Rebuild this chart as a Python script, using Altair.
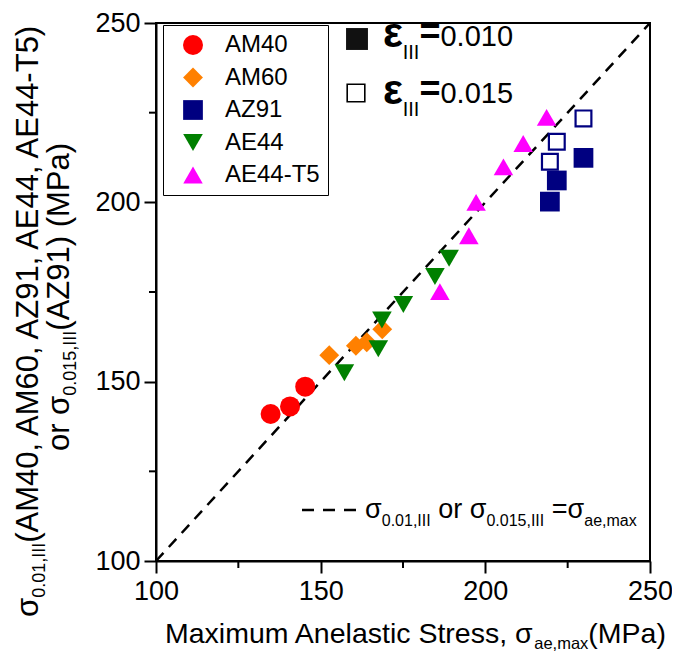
import altair as alt
import pandas as pd

FONT = "Liberation Sans"

# ---------------- data ----------------
alloys = ["AM40", "AM60", "AZ91", "AE44", "AE44-T5"]
colors = ["#ff0000", "#ff8000", "#000080", "#008000", "#ff00ff"]
shapes = ["circle", "diamond", "square", "triangle-down", "triangle-up"]
marker_sizes = [400, 380, 290, 420, 420]

am40_x = [134.8, 140.7, 145.3]
am40_y = [141.0, 143.1, 148.6]
am60_x = [152.6, 160.7, 164.0, 168.7]
am60_y = [157.4, 160.0, 161.0, 164.6]
az91_x = [219.6, 221.7, 229.8]
az91_y = [200.2, 206.1, 212.4]
ae44_x = [157.2, 167.5, 168.6, 175.1, 184.7, 189.0]
ae44_y = [152.5, 159.2, 167.2, 171.5, 179.3, 184.4]
ae44t5_x = [186.2, 195.0, 197.2, 205.5, 211.5, 218.6]
ae44t5_y = [175.1, 190.7, 200.0, 209.9, 216.4, 223.7]

az91_open_x = [219.6, 221.7, 229.8]
az91_open_y = [211.3, 216.9, 223.4]

diag_x = [100, 250]
diag_y = [100, 250]

major_ticks = [100, 150, 200, 250]
minor_ticks = [125, 175, 225]

# ---------------- tables ----------------
series = [("AM40", am40_x, am40_y), ("AM60", am60_x, am60_y), ("AZ91", az91_x, az91_y),
          ("AE44", ae44_x, ae44_y), ("AE44-T5", ae44t5_x, ae44t5_y)]
rows = []
for name, xs, ys in series:
    for a, b in zip(xs, ys):
        rows.append({"alloy": name, "x": a, "y": b})
pts = pd.DataFrame(rows)
open_df = pd.DataFrame({"x": az91_open_x, "y": az91_open_y})
diag_df = pd.DataFrame({"x": diag_x, "y": diag_y})
minor_df = pd.DataFrame({"v": minor_ticks})
one = pd.DataFrame({"k": [0]})

W, H = 494, 538
TOP = 15  # top padding

scale = alt.Scale(domain=[100, 250], nice=False, zero=False)
common_axis = dict(values=major_ticks, title=None, labelFontSize=27, labelFont=FONT,
                   labelColor="black", tickSize=12, tickWidth=2, tickColor="black",
                   domainWidth=2, domainColor="black", grid=False, labelFlush=False)
xaxis = alt.Axis(labelPadding=5, **common_axis)
yaxis = alt.Axis(labelPadding=4, **common_axis)


def X(f):
    return alt.X(f, type="quantitative", scale=scale, axis=xaxis)


def Y(f):
    return alt.Y(f, type="quantitative", scale=scale, axis=yaxis)


diag = alt.Chart(diag_df).mark_line(color="black", strokeWidth=2.5, strokeDash=[11, 8]).encode(
    x=X("x"), y=Y("y"))

leg = alt.Legend(orient="none", legendX=7, legendY=2, title=None, labelFontSize=24,
                 labelFont=FONT, labelColor="black", symbolSize=240, symbolStrokeWidth=0,
                 symbolOpacity=1, strokeColor="black", fillColor="white", padding=8,
                 rowPadding=8.5, labelOffset=20, symbolOffset=10)

points = alt.Chart(pts).mark_point(filled=True, opacity=1, strokeWidth=0).encode(
    x=X("x"), y=Y("y"),
    color=alt.Color("alloy:N", scale=alt.Scale(domain=alloys, range=colors), legend=leg, sort=alloys),
    shape=alt.Shape("alloy:N", scale=alt.Scale(domain=alloys, range=shapes), legend=leg, sort=alloys),
    size=alt.Size("alloy:N", scale=alt.Scale(domain=alloys, range=marker_sizes), legend=None, sort=alloys),
)

opens = alt.Chart(open_df).mark_point(shape="square", filled=False, color="#000080",
                                      strokeWidth=2.2, size=250, opacity=1).encode(
    x=X("x"), y=Y("y"))

minor_x = alt.Chart(minor_df).mark_rule(color="black", strokeWidth=2).encode(
    x=X("v"), y=alt.value(H), y2=alt.value(H + 7))
minor_y = alt.Chart(minor_df).mark_rule(color="black", strokeWidth=2).encode(
    y=Y("v"), x=alt.value(0), x2=alt.value(-7))

# ---------------- text helpers ----------------
CW = {"M": .833, "a": .556, "x": .5, "i": .222, "m": .833, "u": .556, " ": .278, "A": .667,
      "n": .556, "e": .556, "l": .222, "s": .5, "t": .278, "c": .5, "S": .667, "r": .333,
      ",": .278, "σ": .62, "(": .333, ")": .333, "P": .667, ".": .278, "I": .278, "Z": .611,
      "E": .667, "-": .333, "T": .611, "o": .556, "=": .584, "ε": .47}


def tw(s, fs):
    return sum(CW.get(c, .556) for c in s) * fs


def text_run(segs, x0, y0, angle=0):
    out = []
    pos = 0.0
    for seg in segs:
        txt, fs, shift = seg[0], seg[1], seg[2]
        weight = seg[3] if len(seg) > 3 else "normal"
        stripped = txt.lstrip(" ")
        lead = tw(txt[: len(txt) - len(stripped)], fs)
        body = stripped.rstrip(" ")
        p = pos + lead
        if angle == 0:
            xx, yy = x0 + p, y0 + shift
        else:
            xx, yy = x0 + shift, y0 - p
        if body:
            out.append(alt.Chart(one).mark_text(text=body, font=FONT, fontSize=fs, align="left",
                                                baseline="alphabetic", angle=angle, color="black",
                                                fontWeight=weight)
                       .encode(x=alt.value(xx), y=alt.value(yy)))
        pos += tw(txt, fs)
    return out


texts = []
# x title
texts += text_run([("Maximum Anelastic Stress, σ", 28.5, 0), ("ae,max", 16.5, 6), ("(MPa)", 28.5, 0)],
                  9, H + 82)
# y title (rotated)
texts += text_run([("σ", 31, 0), ("0.01,III", 18, 7), ("(AM40, AM60, AZ91, AE44, AE44-T5)", 31, 0)],
                  -118, 594, angle=270)
line2 = [("or σ", 31, 0), ("0.015,III", 18, 7), ("(AZ91) (MPa)", 31, 0)]
l2len = sum(tw(t, f) for t, f, _ in line2)
texts += text_run(line2, -87, 274 + l2len / 2, angle=270)

# strain legend (top right)
texts += text_run([("ε", 42, 0, "bold"), ("III", 20, 12), ("=", 36, -3, "bold"), ("0.010", 29, -1)], 227, 24)
texts += text_run([("ε", 42, 0, "bold"), ("III", 20, 12), ("=", 36, -3, "bold"), ("0.015", 29, -1)], 227, 81)
sq_fill = alt.Chart(one).mark_point(shape="square", filled=True, color="#111111", size=480,
                                    opacity=1).encode(x=alt.value(201), y=alt.value(16))
sq_open = alt.Chart(one).mark_point(shape="square", filled=False, color="black", size=310,
                                    strokeWidth=1.6, opacity=1).encode(x=alt.value(200), y=alt.value(70))

# dashed-line legend (bottom right)
dash_leg = alt.Chart(one).mark_rule(color="black", strokeWidth=2.5, strokeDash=[12, 9]).encode(
    x=alt.value(146), x2=alt.value(201), y=alt.value(H - 51))
texts += text_run([("σ", 27, 0), ("0.01,III", 16, 8), (" or σ", 27, 0), ("0.015,III", 16, 8),
                   (" =σ", 27, 0), ("ae,max", 16, 8)], 209, H - 43)

chart = alt.layer(diag, points, opens, minor_x, minor_y, sq_fill, sq_open, dash_leg, *texts).properties(
    width=W, height=H,
    padding={"left": 148, "right": 22, "top": TOP, "bottom": 90},
    autosize=alt.AutoSizeParams(type="none"),
).configure_view(stroke="black", strokeWidth=2)

chart.save("out.html", embed_options={"renderer": "svg", "actions": False})
